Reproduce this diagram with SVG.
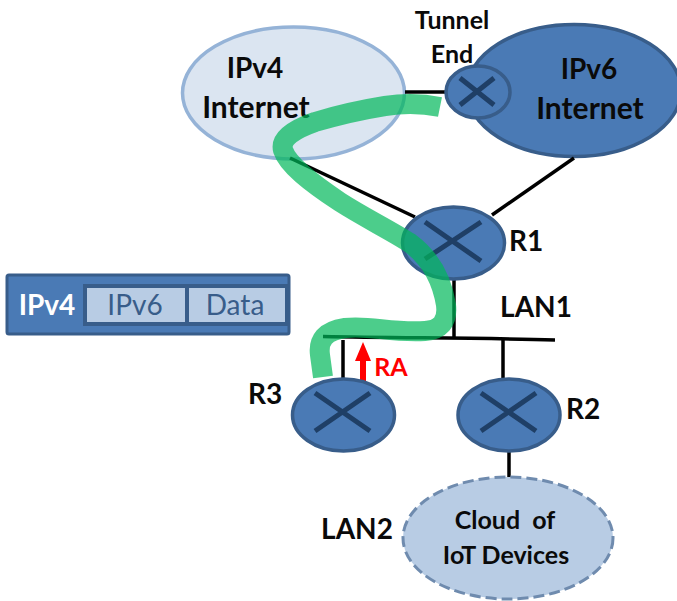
<svg xmlns="http://www.w3.org/2000/svg" width="677" height="601" viewBox="0 0 677 601">
<defs><style>
text{font-family:Lato,"Liberation Sans",sans-serif;font-weight:700;fill:#0a0a0a;text-anchor:middle}
.big{font-size:30px}.mid{font-size:28px}.sm{font-size:25px}
.rt{fill:#4a7ab5;stroke:#385d8a;stroke-width:3.5}
.x{stroke:#1f3f66;stroke-width:5;fill:none}
.ln{stroke:#000;stroke-width:3.5;fill:none}
.cell{fill:#b8cce4;stroke:#385d8a;stroke-width:4}
</style></defs>
<rect width="677" height="601" fill="#fff"/>
<g id="ipv4-internet"><ellipse cx="293.500" cy="93" rx="111" ry="66" fill="#dbe5f1" stroke="#95b3d7" stroke-width="3.500"/><text class="mid" x="255" y="78">IPv4</text><text class="big" x="256" y="118">Internet</text></g>
<g id="ipv6-internet"><ellipse cx="574" cy="90.500" rx="107" ry="66" fill="#4a7ab5" stroke="#385d8a" stroke-width="3.500"/><text class="mid" x="589" y="79">IPv6</text><text class="big" x="590" y="119">Internet</text></g>
<g id="connectors">
<path class="ln" d="M405 92H446"/>
<path class="ln" d="M290 158L415 217"/>
<path class="ln" d="M492 215L574 158"/>
<path class="ln" d="M454 279V338"/>
<path class="ln" d="M323 336.500C400 338 480 338 555 340"/>
<path class="ln" d="M343 340V378"/>
<path class="ln" d="M503 340V378"/>
<path class="ln" d="M509 452V477"/>
<path d="M363 342L371 361H366V381H360V361H355Z" fill="#f00"/>
</g>
<g id="tunnel-end"><ellipse class="rt" cx="478" cy="92" rx="32" ry="26"/><path class="x" d="M460 105L494 78M460 78L494 105"/><text class="sm" x="452" y="29">Tunnel</text><text class="sm" x="452" y="63">End</text></g>
<g id="r1"><ellipse class="rt" cx="453.500" cy="243" rx="51" ry="36"/><path class="x" d="M425 259L481 222M425 222L481 261"/><text class="mid" x="526" y="251">R1</text></g>
<g id="r3"><ellipse class="rt" cx="343.500" cy="415" rx="51" ry="36"/><path class="x" d="M315 431L370 393M315 393L370 431"/><text class="mid" x="265" y="404">R3</text></g>
<g id="r2"><ellipse class="rt" cx="509" cy="415" rx="51" ry="36"/><path class="x" d="M481 431L536 393M481 393L536 431"/><text class="mid" x="583" y="419">R2</text></g>
<g id="lan2-cloud"><ellipse cx="508" cy="538" rx="105" ry="61" fill="#b8cce4" stroke="#6f8bae" stroke-width="3" stroke-dasharray="11 5"/><text class="sm" x="505" y="529" xml:space="preserve">Cloud  of</text><text class="sm" x="506" y="564">IoT Devices</text></g>
<g id="tunnel-path"><path d="M440 107C425 104 405 103 385 106C360 110 335 116 315 122C295 129 280 138 283 150C288 165 310 182 340 202C365 218 390 230 410 243C430 258 442 280 446 305C448 322 440 330 425 331C390 333 370 325 345 328C325 331 318 340 320 355L323 377" fill="none" stroke="#00b85a" stroke-opacity=".7" stroke-width="20"/></g>
<g id="labels"><text class="mid" x="536" y="317">LAN1</text><text class="mid" x="357" y="539">LAN2</text><text class="sm" x="391" y="376" style="fill:#f00">RA</text></g>
<g id="packet"><rect x="7" y="275" width="282" height="59" fill="#4a7ab5" stroke="#385d8a" stroke-width="3" rx="2"/><rect class="cell" x="85" y="286" width="102" height="38"/><rect class="cell" x="187" y="286" width="100" height="38"/><text class="mid" x="47" y="315" style="fill:#fff">IPv4</text><text class="mid" x="135" y="315" style="fill:#385d8a;font-weight:400">IPv6</text><text class="mid" x="235" y="315" style="fill:#385d8a;font-weight:400">Data</text></g>
</svg>
